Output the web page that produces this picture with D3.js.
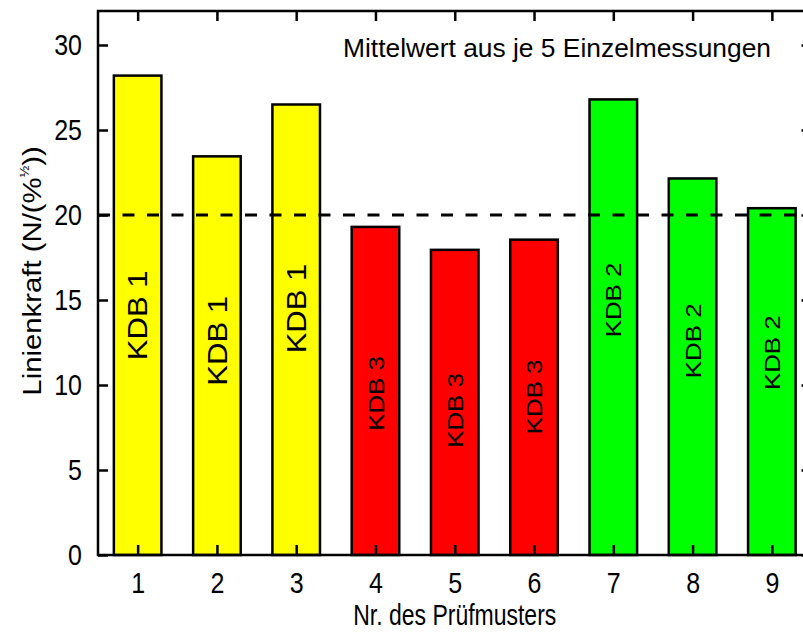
<!DOCTYPE html>
<html><head><meta charset="utf-8">
<script src="https://cdn.jsdelivr.net/npm/d3@7"></script>
<style>body{margin:0;background:#fff}svg{display:block}text{font-family:"Liberation Sans",Arial,sans-serif}</style>
</head><body><svg id="c" width="803" height="638"></svg>
<script>
const samples = [1,2,3,4,5,6,7,8,9];
const values = [28.2, 23.45, 26.5, 19.3, 17.95, 18.55, 26.8, 22.15, 20.4];
const groups = ["KDB 1","KDB 1","KDB 1","KDB 3","KDB 3","KDB 3","KDB 2","KDB 2","KDB 2"];
const labelAt = [14.1, 12.6, 14.5, 9.5, 8.5, 9.3, 15.0, 12.6, 11.9];
const groupColors = {"KDB 1":"#ffff00","KDB 3":"#ff0000","KDB 2":"#00ff00"};
const groupFont = {"KDB 1":27,"KDB 3":22.5,"KDB 2":22.5};
const yTicks = [0,5,10,15,20,25,30];
const refLine = 20;
const note = "Mittelwert aus je 5 Einzelmessungen";

const S = 1.15; // vertical stretch of lettering
const svg = d3.select("#c");
const L=98, R=811.5, T=11, B=555;
const x = d3.scaleLinear().domain([0.5,9.5]).range([L,R]);
const y = d3.scaleLinear().domain([0,32]).range([B,T]);
const bw = x(1.6)-x(1);

// bars
svg.selectAll("rect.bar").data(values).join("rect")
  .attr("x",(d,i)=>x(samples[i])-bw/2).attr("y",d=>y(d))
  .attr("width",bw).attr("height",d=>y(0)-y(d))
  .attr("fill",(d,i)=>groupColors[groups[i]]).attr("stroke","#000").attr("stroke-width",2.5);

// bar labels
svg.selectAll("text.bl").data(groups).join("text")
  .attr("transform",(d,i)=>`translate(${x(samples[i])+ (groupFont[d]*0.358)},${y(labelAt[i])}) rotate(-90) scale(${S},1)`)
  .attr("text-anchor","middle").attr("font-size",d=>groupFont[d]).text(d=>d);

// reference dashed line
svg.append("line").attr("x1",L).attr("x2",R).attr("y1",y(refLine)).attr("y2",y(refLine))
  .attr("stroke","#000").attr("stroke-width",3).attr("stroke-dasharray","12,12.5");

// axes
const fs=25;
const gB = svg.append("g").attr("transform",`translate(0,${B})`)
  .call(d3.axisBottom(x).tickValues(samples).tickSize(-10).tickPadding(15).tickFormat(d3.format("d")));
const gT = svg.append("g").attr("transform",`translate(0,${T})`)
  .call(d3.axisTop(x).tickValues(samples).tickSize(-10).tickFormat(""));
const gL = svg.append("g").attr("transform",`translate(${L},0)`)
  .call(d3.axisLeft(y).tickValues(yTicks).tickSize(-10).tickPadding(16).tickFormat(d3.format("d")));
const gR = svg.append("g").attr("transform",`translate(${R},0)`)
  .call(d3.axisRight(y).tickValues(yTicks).tickSize(-10).tickFormat(""));
[gB,gT,gL,gR].forEach(g=>{
  g.attr("font-size",fs).attr("font-family","Liberation Sans, Arial, sans-serif");
  g.select(".domain").remove();
  g.selectAll(".tick line").attr("stroke","#000").attr("stroke-width",2.5);
  g.selectAll("text").attr("font-size",fs).attr("fill","#000").attr("transform",`scale(1,${S})`);
});
// frame
svg.append("rect").attr("x",L).attr("y",T).attr("width",R-L).attr("height",B-T)
  .attr("fill","none").attr("stroke","#000").attr("stroke-width",2.5);

// titles
svg.append("text").attr("transform",`translate(${(L+R)/2},625) scale(1,1.25)`).attr("text-anchor","middle")
  .attr("font-size",23).text("Nr. des Prüfmusters");
const yt = svg.append("text").attr("transform",`translate(41,271) rotate(-90) scale(${S},1)`)
  .attr("text-anchor","middle").attr("font-size",25.5);
yt.append("tspan").text("Linienkraft (N/(%");
yt.append("tspan").attr("font-size",12).attr("dy",-12).text("½");
yt.append("tspan").attr("dy",12).text("))");

svg.append("text").attr("transform",`translate(557,57) scale(1,${S})`).attr("text-anchor","middle")
  .attr("font-size",23).attr("textLength",428).attr("lengthAdjust","spacingAndGlyphs").text(note);
</script></body></html>
